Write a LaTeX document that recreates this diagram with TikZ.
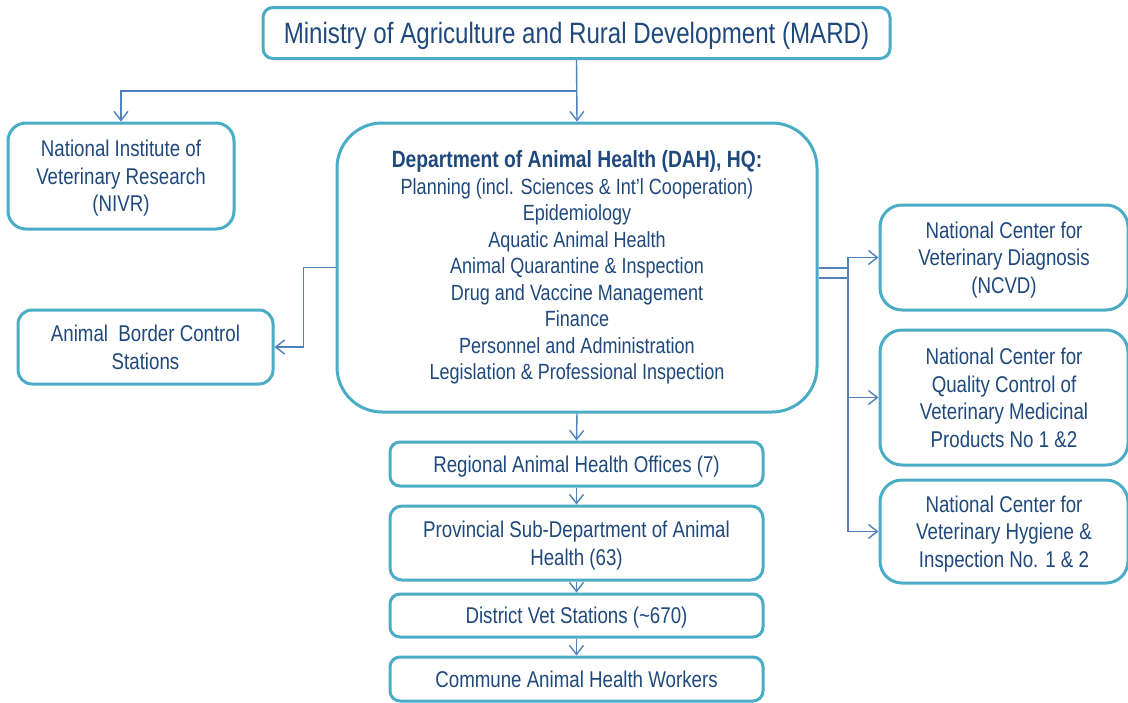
\documentclass[tikz,border=0pt]{standalone}
\usepackage{fontspec}
\setmainfont{Liberation Sans}[FakeStretch=0.82]
\usetikzlibrary{arrows.meta}

\definecolor{boxline}{RGB}{75,172,198}
\definecolor{linkline}{RGB}{79,129,189}
\definecolor{labeltext}{RGB}{31,73,125}

\tikzset{
  basebox/.style={draw=boxline, line width=3pt, rounded corners=14pt, align=center,
    text=labeltext, font=\fontsize{22.8}{27.5}\selectfont, inner sep=0pt},
  unit/.style={basebox, text depth=0pt},
  link/.style={draw=linkline, line width=1.4pt},
  arr/.style={link, -{Straight Barb[length=9pt,width=14pt,line width=1.4pt]}}
}

\begin{document}
\begin{tikzpicture}[x=1pt,y=-1pt]

\useasboundingbox (0,0) rectangle (1128,702);

% top
\node [unit, minimum width=627pt, minimum height=51pt, rounded corners=10pt,
  font=\fontsize{29.4}{34}\selectfont] (mard) at (576.5,33)
  {Ministry of Agriculture and Rural Development (MARD)};

\node [unit, minimum width=226pt, minimum height=106pt, rounded corners=18pt] (nivr) at (121,176)
  {National Institute of\\Veterinary Research\\(NIVR)};

\node [unit, minimum width=255pt, minimum height=74pt] (abcs) at (145.5,347)
  {Animal\ \ Border Control\\Stations};

\node [basebox, minimum width=480pt, minimum height=289pt, rounded corners=45pt,
  font=\fontsize{22}{26.5}\selectfont] (dah) at (577,267.5)
  {{\fontsize{23.5}{26.5}\selectfont\bfseries Department of Animal Health (DAH), HQ:}\\
   Planning (incl. Sciences \& Int'l Cooperation)\\
   Epidemiology\\
   Aquatic Animal Health\\
   Animal Quarantine \& Inspection\\
   Drug and Vaccine Management\\
   Finance\\
   Personnel and Administration\\
   Legislation \& Professional Inspection};

% right side centers
\node [unit, minimum width=248pt, minimum height=105pt, rounded corners=22pt] (ncvd) at (1004,257.5)
  {National Center for\\Veterinary Diagnosis\\(NCVD)};
\node [unit, minimum width=248pt, minimum height=135pt, rounded corners=22pt] (ncqc) at (1004,397.5)
  {National Center for\\Quality Control of\\Veterinary Medicinal\\Products No 1 \&2};
\node [unit, minimum width=248pt, minimum height=103pt, rounded corners=22pt] (ncvh) at (1004,531.5)
  {National Center for\\Veterinary Hygiene \&\\Inspection No. 1 \& 2};

% local levels
\node [unit, minimum width=373pt, minimum height=44pt, rounded corners=10pt] (raho) at (576.5,464)
  {Regional Animal Health Offices (7)};
\node [unit, minimum width=373pt, minimum height=74pt, rounded corners=12pt] (psd) at (576.5,543)
  {Provincial Sub-Department of Animal\\Health (63)};
\node [unit, minimum width=373pt, minimum height=43pt, rounded corners=10pt] (dvs) at (576.5,615.5)
  {District Vet Stations (\textasciitilde670)};
\node [unit, minimum width=373pt, minimum height=44pt, rounded corners=10pt] (cahw) at (576.5,679)
  {Commune Animal Health Workers};

% links
\coordinate (split) at (577,91);
\draw [arr] (mard.south) -- (dah.north);
\draw [arr] (split) -| (nivr.north);

\draw [arr] (dah.west) -- ++(-32,0) |- (abcs.east);

\coordinate (r1) at ([yshift=-0.5pt]dah.east);
\coordinate (r2) at ([yshift=-10.5pt]dah.east);
\coordinate (bus) at (848,268);
\draw [arr] (r1) -- (bus) |- (ncvd.west);
\draw [link] (r2) -- (848,278);
\draw [arr] (bus) |- (ncqc.west);
\draw [arr] (bus) |- (ncvh.west);

\draw [arr] (dah.south) -- (raho.north);
\draw [arr] (raho.south) -- (psd.north);
\draw [arr] (psd.south) -- (dvs.north);
\draw [arr] (dvs.south) -- (cahw.north);

\end{tikzpicture}
\end{document}
